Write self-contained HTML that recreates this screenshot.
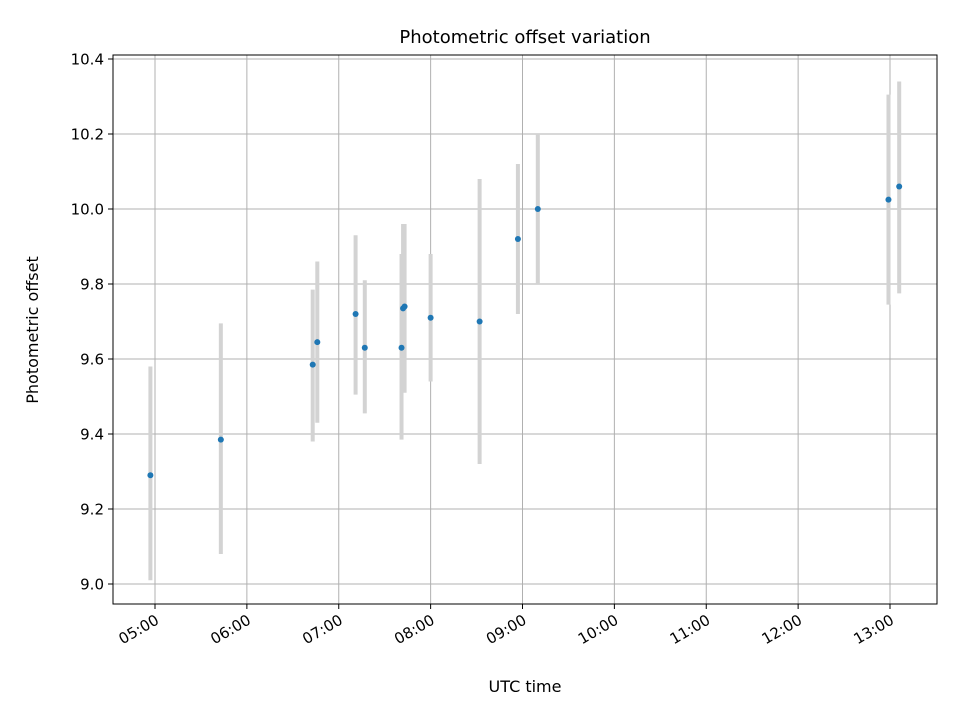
<!DOCTYPE html>
<html><head><meta charset="utf-8"><style>
body{margin:0;background:#fff;}
svg{display:block;font-family:"DejaVu Sans","Liberation Sans",sans-serif;}
</style></head><body>
<svg id="chart" width="960" height="720">
<rect width="960" height="720" fill="#fff"/>
<g id="grid"></g><g id="marks"></g><g id="axes"></g>
<text x="525" y="43" font-size="18" text-anchor="middle" fill="#000">Photometric offset variation</text>
<text x="525" y="692" font-size="16" text-anchor="middle" fill="#000">UTC time</text>
<text transform="translate(38,330) rotate(-90)" font-size="16" text-anchor="middle" fill="#000">Photometric offset</text>
</svg>
<script>
// time in minutes after midnight UTC
const times=[297,343,403,406,431,437,461,462,463,480,512,537,550,779,786];
const offsets=[9.29,9.385,9.585,9.645,9.72,9.63,9.63,9.735,9.74,9.71,9.70,9.92,10.0,10.025,10.06];
const lows=[9.01,9.08,9.38,9.43,9.505,9.455,9.385,9.515,9.51,9.54,9.32,9.72,9.80,9.745,9.775];
const highs=[9.58,9.695,9.785,9.86,9.93,9.81,9.88,9.96,9.96,9.88,10.08,10.12,10.20,10.305,10.34];
const yTicks=[9.0,9.2,9.4,9.6,9.8,10.0,10.2,10.4];
const yTickLabels=["9.0","9.2","9.4","9.6","9.8","10.0","10.2","10.4"];
const xTicks=[300,360,420,480,540,600,660,720,780];
const xTickLabels=["05:00","06:00","07:00","08:00","09:00","10:00","11:00","12:00","13:00"];
const L=113,R=937,T=55,B=604;
const xs=m=>155+(m-300)*(735/480);
const ys=v=>584-(v-9.0)*375;
const NS="http://www.w3.org/2000/svg";
function mk(tag,attrs,parent){const e=document.createElementNS(NS,tag);for(const k in attrs)e.setAttribute(k,attrs[k]);parent.appendChild(e);return e;}
const grid=document.getElementById('grid'),marks=document.getElementById('marks'),axes=document.getElementById('axes');
xTicks.forEach((t,i)=>{
  const x=xs(t);
  const g=mk('line',{x1:x,x2:x,y1:T,y2:B,stroke:'#b0b0b0','stroke-width':1},grid);
  
  
  const tk=mk('line',{x1:x,x2:x,y1:B,y2:B+5,stroke:'#000'},axes);
  
  
  const ax=x+5,ay=B+19;
  const lb=mk('text',{x:ax,y:ay,'font-size':15,'text-anchor':'end',transform:`rotate(-30 ${ax} ${ay})`},axes);
  lb.textContent=xTickLabels[i];
  
  
});
yTicks.forEach((t,i)=>{
  const y=ys(t);
  const g=mk('line',{x1:L,x2:R,y1:y,y2:y,stroke:'#b0b0b0','stroke-width':1},grid);
  
  
  const tk=mk('line',{x1:L-5,x2:L,y1:y,y2:y,stroke:'#000'},axes);
  
  
  const lb=mk('text',{x:L-9,y:y+5.5,'font-size':15,'text-anchor':'end'},axes);
  lb.textContent=yTickLabels[i];
  
  
});
const frame=mk('rect',{x:L,y:T,width:R-L,height:B-T,fill:'none',stroke:'#000','stroke-width':1},axes);


times.forEach((t,i)=>{
  const x=xs(t);
  const e=mk('line',{x1:x,x2:x,y1:ys(lows[i]),y2:ys(highs[i]),stroke:'#d3d3d3','stroke-width':4},marks);
  
  
});
times.forEach((t,i)=>{
  const c=mk('circle',{cx:xs(t),cy:ys(offsets[i]),r:3,fill:'#1f77b4'},marks);
  
  
});
</script>
</body></html>
